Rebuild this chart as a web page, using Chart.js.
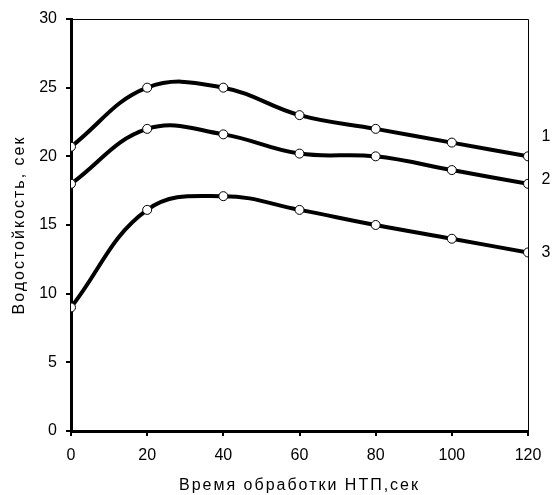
<!DOCTYPE html>
<html>
<head>
<meta charset="utf-8">
<script src="https://cdn.jsdelivr.net/npm/chart.js@4/dist/chart.umd.min.js"></script>
<style>
    html, body { margin: 0; padding: 0; background: #fff; }
    #wrap { width: 552px; height: 495px; }
</style>
</head>
<body>
<div id="wrap"><canvas id="waterChart"></canvas></div>
<script>
// ===== DATA =====
const timeSec = [0, 20, 40, 60, 80, 100, 120];
const curve1 = [20.7, 25, 25, 23, 22, 21, 20];
const curve2 = [18, 22, 21.6, 20.2, 20, 19, 18];
const curve3 = [9, 16.1, 17.1, 16.1, 15, 14, 13];
const curveLabels = ['1', '2', '3'];
const yTicks = [0, 5, 10, 15, 20, 25, 30];
const xTicks = [0, 20, 40, 60, 80, 100, 120];

const FONT = "'Liberation Sans', Arial, sans-serif";

function series(values, label) {
    return {
        label: label,
        data: timeSec.map((t, i) => ({ x: t, y: values[i] })),
        borderColor: '#000',
        borderWidth: 4,
        tension: 0.4,
        pointRadius: 4.5,
        pointBackgroundColor: '#fff',
        pointBorderColor: '#000',
        pointBorderWidth: 1,
        fill: false,
    };
}

// разреженные подписи осей как в оригинале
const spacedTitles = {
    id: 'spacedTitles',
    afterLayout(chart) {
        Object.values(chart.scales).forEach(s => {
            if (s._spaced) return;
            const orig = s.drawTitle;
            s.drawTitle = function () {
                this.ctx.save();
                this.ctx.letterSpacing = '2px';
                orig.apply(this, arguments);
                this.ctx.restore();
            };
            s._spaced = true;
        });
    }
};

// рамка сверху/справа + номера кривых
const framePlugin = {
    id: 'frame',
    afterDraw(chart) {
        const { ctx, chartArea: a } = chart;
        ctx.save();
        ctx.strokeStyle = '#000';
        ctx.lineWidth = 1;
        ctx.beginPath();
        ctx.moveTo(a.left, a.top + 0.5);
        ctx.lineTo(a.right + 0.5, a.top + 0.5);
        ctx.lineTo(a.right + 0.5, a.bottom);
        ctx.stroke();

        const offsets = [-20, -4, 0];
        ctx.fillStyle = '#000';
        ctx.font = '16px ' + FONT;
        ctx.textAlign = 'center';
        ctx.textBaseline = 'middle';
        chart.data.datasets.forEach((ds, i) => {
            const last = ds.data[ds.data.length - 1];
            const px = chart.scales.x.getPixelForValue(last.x);
            const py = chart.scales.y.getPixelForValue(last.y);
            ctx.fillText(curveLabels[i], px + 18, py + offsets[i]);
        });
        ctx.restore();
    }
};

new Chart(document.getElementById('waterChart'), {
    type: 'line',
    data: {
        datasets: [series(curve1, '1'), series(curve2, '2'), series(curve3, '3')]
    },
    options: {
        responsive: true,
        maintainAspectRatio: false,
        animation: false,
        events: [],
        layout: { padding: { top: 19, right: 24, left: 0, bottom: 0 } },
        plugins: { legend: { display: false }, tooltip: { enabled: false } },
        scales: {
            x: {
                type: 'linear',
                min: 0,
                max: 120,
                afterBuildTicks: (s) => { s.ticks = xTicks.map(v => ({ value: v })); },
                afterFit: (s) => { s.height = 64; },
                grid: { drawOnChartArea: false, color: '#000', lineWidth: 2, tickLength: 5 },
                border: { color: '#000', width: 3 },
                ticks: { color: '#000', font: { family: FONT, size: 16 }, padding: 10, maxRotation: 0 },
                title: {
                    display: true,
                    text: 'Время обработки НТП,сек',
                    color: '#000',
                    font: { family: FONT, size: 16 },
                    padding: { top: 14, bottom: 0 }
                }
            },
            y: {
                min: 0,
                max: 30,
                afterBuildTicks: (s) => { s.ticks = yTicks.map(v => ({ value: v })); },
                afterFit: (s) => { s.width = 71; },
                grid: { drawOnChartArea: false, color: '#000', lineWidth: 2, tickLength: 5 },
                border: { color: '#000', width: 3 },
                ticks: { color: '#000', font: { family: FONT, size: 16 }, padding: 9 },
                title: {
                    display: true,
                    text: 'Водостойкость, сек',
                    color: '#000',
                    font: { family: FONT, size: 16 },
                    padding: { top: 10, bottom: 10 }
                }
            }
        }
    },
    plugins: [spacedTitles, framePlugin]
});
</script>
</body>
</html>
